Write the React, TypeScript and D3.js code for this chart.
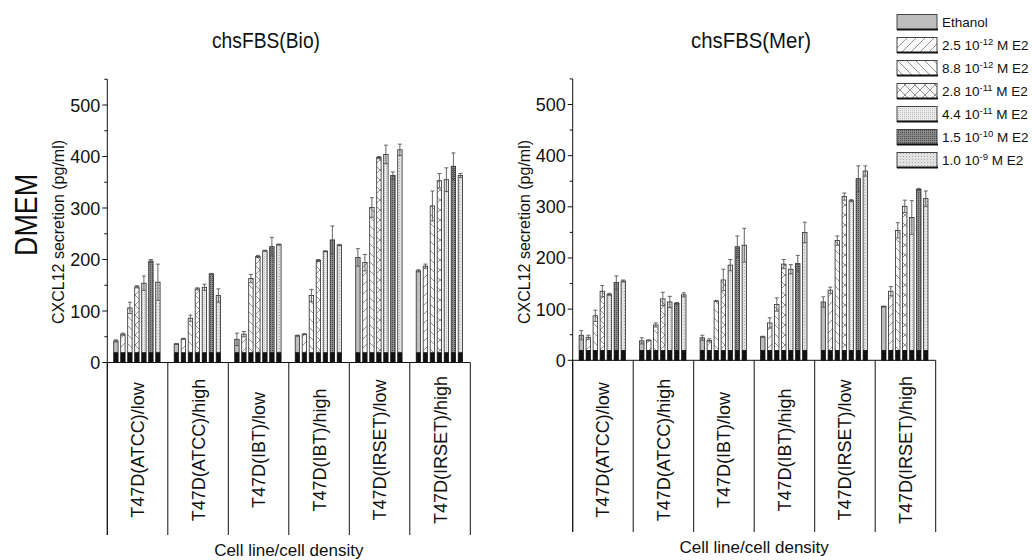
import React from 'react';
import * as d3 from 'd3';

const categories = [
  'T47D(ATCC)/low',
  'T47D(ATCC)/high',
  'T47D(IBT)/low',
  'T47D(IBT)/high',
  'T47D(IRSET)/low',
  'T47D(IRSET)/high',
];
const treatments = ['Ethanol', '2.5e-12', '8.8e-12', '2.8e-11', '4.4e-11', '1.5e-10', '1.0e-9'];
const legendMantissa = ['2.5', '8.8', '2.8', '4.4', '1.5', '1.0'];
const legendExponent = ['-12', '-12', '-11', '-11', '-10', '-9'];

// chsFBS(Bio): rows = categories, columns = treatments
const bioValues = [
  [42, 55, 106, 147, 154, 197, 156],
  [36, 46, 86, 143, 146, 172, 130],
  [45, 55, 163, 206, 217, 225, 229],
  [52, 55, 130, 198, 216, 238, 228],
  [204, 194, 301, 398, 404, 363, 413],
  [178, 187, 304, 353, 355, 381, 363],
];
const bioErrors = [
  [2, 2, 11, 2, 14, 3, 35],
  [1, 1, 6, 2, 6, 1, 13],
  [12, 5, 8, 2, 1, 18, 1],
  [1, 1, 12, 2, 1, 27, 1],
  [17, 16, 19, 2, 18, 7, 11],
  [2, 4, 29, 14, 23, 26, 4],
];
// chsFBS(Mer)
const merValues = [
  [49, 45, 87, 135, 129, 152, 155],
  [38, 39, 69, 120, 114, 111, 128],
  [44, 39, 116, 157, 186, 222, 225],
  [46, 73, 109, 188, 178, 189, 250],
  [114, 137, 234, 320, 312, 355, 370],
  [105, 135, 254, 301, 279, 334, 316],
];
const merErrors = [
  [9, 4, 11, 11, 2, 13, 2],
  [6, 1, 4, 13, 11, 2, 4],
  [5, 3, 1, 21, 11, 21, 33],
  [1, 10, 13, 9, 9, 16, 20],
  [10, 6, 9, 7, 2, 25, 10],
  [1, 9, 15, 12, 33, 2, 15],
];
const yTicks = [0, 100, 200, 300, 400, 500];
const yMinorTicks = [50, 150, 250, 350, 450, 550];
const baseValue = 20;

const FONT = "'Liberation Sans', Arial, sans-serif";
const patternIds = ['pEth', 'pFwd', 'pBack', 'pCross', 'pLight', 'pDark', 'pLight2'];

function Patterns() {
  return (
    <defs>
      <pattern id="pEth" patternUnits="userSpaceOnUse" width="4" height="4">
        <rect width="4" height="4" fill="#bdbdbd" />
      </pattern>
      <pattern id="pFwd" patternUnits="userSpaceOnUse" width="9" height="9">
        <rect width="9" height="9" fill="#fafafa" />
        <path d="M0,9 L9,0 M-2,2 L2,-2 M7,11 L11,7" stroke="#7a7a7a" strokeWidth="0.8" />
      </pattern>
      <pattern id="pBack" patternUnits="userSpaceOnUse" width="9" height="9">
        <rect width="9" height="9" fill="#fafafa" />
        <path d="M0,0 L9,9 M-2,7 L2,11 M7,-2 L11,2" stroke="#7a7a7a" strokeWidth="0.8" />
      </pattern>
      <pattern id="pCross" patternUnits="userSpaceOnUse" width="10" height="10">
        <rect width="10" height="10" fill="#fafafa" />
        <path d="M0,0 L10,10 M0,10 L10,0" stroke="#7a7a7a" strokeWidth="0.8" />
      </pattern>
      <pattern id="pLight" patternUnits="userSpaceOnUse" width="2" height="2">
        <rect width="2" height="2" fill="#ececec" />
        <rect width="1" height="1" fill="#bdbdbd" />
      </pattern>
      <pattern id="pDark" patternUnits="userSpaceOnUse" width="2" height="2">
        <rect width="2" height="2" fill="#8c8c8c" />
        <rect width="1" height="1" fill="#4a4a4a" />
      </pattern>
      <pattern id="pLight2" patternUnits="userSpaceOnUse" width="3" height="3">
        <rect width="3" height="3" fill="#e2e2e2" />
        <rect width="1" height="1" fill="#aaaaaa" />
      </pattern>
    </defs>
  );
}

type PanelProps = {
  left: number;
  right: number;
  y0: number;
  y500: number;
  values: number[][];
  errors: number[][];
  title: string;
  titleX: number;
  titleLen: number;
  sepBottom: number;
  xTitleY: number;
};

function Panel({ left, right, y0, y500, values, errors, title, titleX, titleLen, sepBottom, xTitleY }: PanelProps) {
  const y = d3.scaleLinear().domain([0, 500]).range([y0, y500]);
  const xg = d3.scaleBand<string>().domain(categories).range([left, right]).padding(0);
  const xb = d3
    .scaleBand<string>()
    .domain(treatments)
    .range([6.4, 52.8])
    .paddingInner(0.37)
    .paddingOuter(0);
  const bw = xb.bandwidth();
  const boundaries = categories.map((c) => xg(c) as number).concat([right]);
  return (
    <g fontFamily={FONT}>
      <text
        x={titleX}
        y={48}
        fontSize={22}
        textAnchor="middle"
        textLength={titleLen}
        lengthAdjust="spacingAndGlyphs"
        fill="#111"
      >
        {title}
      </text>
      {/* bars */}
      {categories.map((c, gi) => (
        <g key={c}>
          {treatments.map((t, ti) => {
            const v = values[gi][ti];
            const e = errors[gi][ti];
            const x = (xg(c) as number) + (xb(t) as number);
            const cx = x + bw / 2;
            return (
              <g key={t}>
                <rect x={x} y={y(v)} width={bw} height={y0 - y(v)} fill={`url(#${patternIds[ti]})`} stroke="#2a2a2a" strokeWidth={0.8} />
                <rect x={x} y={y(baseValue)} width={bw} height={y0 - y(baseValue)} fill="#111" />
                <line x1={cx} x2={cx} y1={y(v + e)} y2={y(v - e)} stroke="#555" strokeWidth={0.9} />
                <line x1={cx - 2} x2={cx + 2} y1={y(v + e)} y2={y(v + e)} stroke="#555" strokeWidth={0.9} />
                <line x1={cx - 2} x2={cx + 2} y1={y(v - e)} y2={y(v - e)} stroke="#555" strokeWidth={0.9} />
              </g>
            );
          })}
        </g>
      ))}
      {/* y axis */}
      <line x1={left} x2={left} y1={y(550)} y2={sepBottom} stroke="#111" strokeWidth={1} />
      {yTicks.map((t) => (
        <g key={t}>
          <line x1={left - 5} x2={left} y1={y(t)} y2={y(t)} stroke="#111" strokeWidth={1} />
          <text x={left - 7} y={y(t) + 6.5} fontSize={18} textAnchor="end" fill="#111">
            {t}
          </text>
        </g>
      ))}
      {yMinorTicks.map((t) => (
        <line key={t} x1={left - 3} x2={left} y1={y(t)} y2={y(t)} stroke="#111" strokeWidth={1} />
      ))}
      <text
        transform={`translate(${left - 43},232) rotate(-90)`}
        fontSize={16}
        textAnchor="middle"
        fill="#111"
      >
        CXCL12 secretion (pg/ml)
      </text>
      {/* x axis */}
      <line x1={left} x2={right} y1={y0} y2={y0} stroke="#111" strokeWidth={1} />
      {boundaries.map((b, i) => (
        <line key={i} x1={b} x2={b} y1={y0} y2={sepBottom} stroke="#111" strokeWidth={1} />
      ))}
      {categories.map((c) => {
        const cx = (xg(c) as number) + xg.bandwidth() / 2;
        return (
          <text key={c} transform={`translate(${cx + 6.5},450) rotate(-90)`} fontSize={18} textAnchor="middle" fill="#111">
            {c}
          </text>
        );
      })}
      <text x={(left + right) / 2} y={xTitleY} fontSize={17} textAnchor="middle" fill="#111">
        Cell line/cell density
      </text>
    </g>
  );
}

function Legend() {
  const rowY = d3.scaleLinear().domain([0, 6]).range([22, 160]);
  const labels = ['Ethanol'].concat(legendMantissa);
  return (
    <g fontFamily={FONT}>
      {labels.map((l, i) => {
        const cy = rowY(i);
        return (
          <g key={i}>
            <rect x={897} y={cy - 7.5} width={40} height={15} fill={`url(#${patternIds[i]})`} stroke="#444" strokeWidth={1} />
            <line x1={897} x2={938} y1={cy + 7.5} y2={cy + 7.5} stroke="#111" strokeWidth={2} />
            <text x={942} y={cy + 5} fontSize={13.5} fill="#111">
              {i === 0 ? (
                'Ethanol'
              ) : (
                <>
                  {l} 10
                  <tspan fontSize={9.5} dy={-5}>
                    {legendExponent[i - 1]}
                  </tspan>
                  <tspan dy={5}> M E2</tspan>
                </>
              )}
            </text>
          </g>
        );
      })}
    </g>
  );
}

export default function App() {
  return (
    <svg width={1032} height={560} style={{ position: 'absolute', left: 0, top: 0, background: '#fff' }}>
      <Patterns />
      <rect width={1032} height={560} fill="#fff" />
      <text
        transform="translate(37,215) rotate(-90)"
        fontSize={32}
        textAnchor="middle"
        textLength={82}
        lengthAdjust="spacingAndGlyphs"
        fontFamily={FONT}
        fill="#111"
      >
        DMEM
      </text>
      <Panel
        left={107.3}
        right={470.3}
        y0={362.5}
        y500={105}
        values={bioValues}
        errors={bioErrors}
        title="chsFBS(Bio)"
        titleX={266}
        titleLen={108}
        sepBottom={535}
        xTitleY={556}
      />
      <Panel
        left={572.7}
        right={935.7}
        y0={360.3}
        y500={104.5}
        values={merValues}
        errors={merErrors}
        title="chsFBS(Mer)"
        titleX={751}
        titleLen={120}
        sepBottom={532}
        xTitleY={553}
      />
      <Legend />
    </svg>
  );
}
